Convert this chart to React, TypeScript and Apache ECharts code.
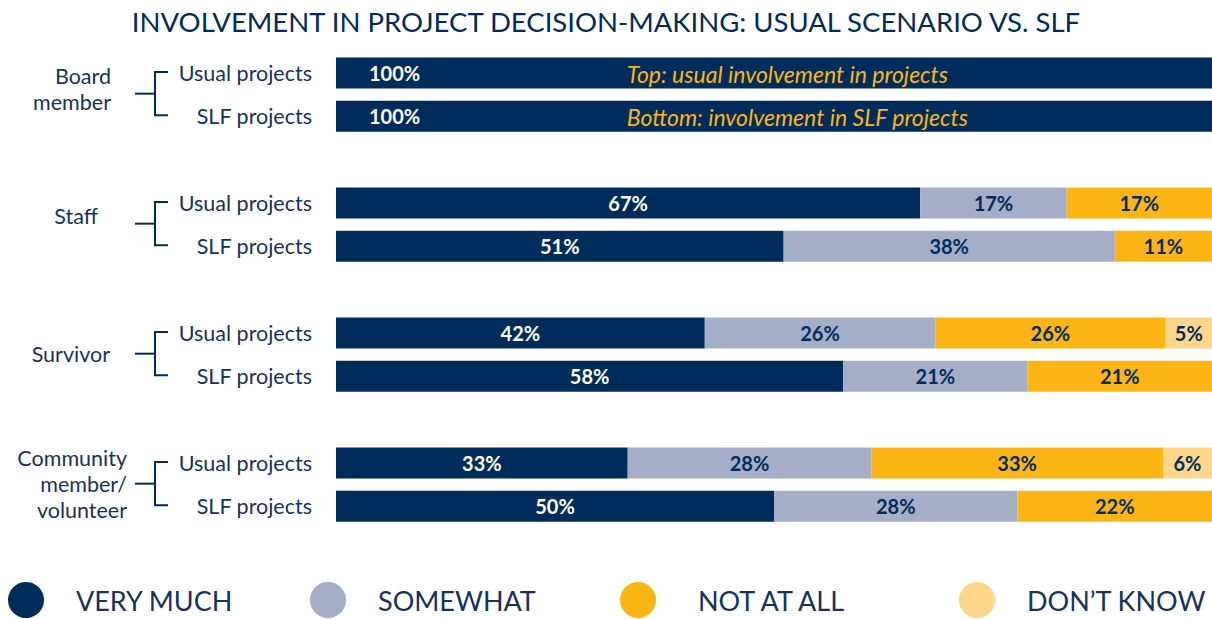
import React, { useEffect, useRef } from 'react';
import * as echarts from 'echarts';

const titleText = 'INVOLVEMENT IN PROJECT DECISION-MAKING: USUAL SCENARIO VS. SLF';
const groups = ['Board\nmember', 'Staff', 'Survivor', 'Community\nmember/\nvolunteer'];
const rowLabels = ['Usual projects', 'SLF projects'];
const responses = ['VERY MUCH', 'SOMEWHAT', 'NOT AT ALL', 'DON\u2019T KNOW'];
// rows: Board usual, Board SLF, Staff usual, Staff SLF, Survivor usual, Survivor SLF, Community usual, Community SLF
const veryMuch = [100, 100, 66.7, 51.1, 42.1, 57.9, 33.3, 50.0];
const somewhat = [null, null, 16.7, 37.8, 26.3, 21.05, 27.8, 27.8];
const notAtAll = [null, null, 16.6, 11.1, 26.3, 21.05, 33.3, 22.2];
const dontKnow = [null, null, null, null, 5.3, null, 5.6, null];
const annotations = ['Top: usual involvement in projects', 'Bottom: involvement in SLF projects'];
const annotationAt = 33.2;

const NAVY = '#002c5c';
const TEXT = '#16335d';
const colors = [NAVY, '#a5aec7', '#fdb515', '#fed78b'];
const FONT = 'Lato, "Noto Sans", sans-serif';

export default function App() {
  const ref = useRef<HTMLDivElement>(null);
  useEffect(() => {
    if (!ref.current) return;
    const chart = echarts.init(ref.current, null, { renderer: 'svg' });

    const cats: string[] = [];
    const rowPos: number[] = [];
    groups.forEach((_, g) => {
      rowLabels.forEach((r) => {
        rowPos.push(cats.length);
        cats.push(r + '|' + g);
      });
      if (g < groups.length - 1) cats.push('|gap' + g);
    });
    const toSlots = (arr: (number | null)[], boardLeft: boolean) => {
      const out: any[] = cats.map(() => '-');
      arr.forEach((v, i) => {
        if (v == null) return;
        if (boardLeft && i < 2) {
          out[rowPos[i]] = { value: v, label: { position: 'insideLeft', distance: 33 } };
        } else out[rowPos[i]] = v;
      });
      return out;
    };
    const seriesData = [veryMuch, somewhat, notAtAll, dontKnow];

    const legendLefts = [8, 310, 620, 959];
    const legendPads = [27, 27, 37, 27];

    chart.setOption({
      animation: false,
      title: {
        text: titleText,
        left: 'center',
        top: 2,
        textStyle: { fontFamily: FONT, fontSize: 27.5, fontWeight: 'normal', color: NAVY },
      },
      legend: responses.map((r, i) => ({
        data: [r],
        left: legendLefts[i],
        top: 582,
        padding: 0,
        icon: 'circle',
        itemWidth: 36,
        itemHeight: 38,
        selectedMode: false,
        textStyle: { fontFamily: FONT, fontSize: 27, color: TEXT, padding: [0, 0, 0, legendPads[i]] },
      })),
      grid: { left: 336, right: 0, top: 51.33, height: 476.67, containLabel: false },
      xAxis: { type: 'value', min: 0, max: 100, show: false },
      yAxis: {
        type: 'category',
        inverse: true,
        data: cats,
        axisLine: { show: false },
        axisTick: { show: false },
        splitLine: { show: false },
        axisLabel: {
          margin: 24,
          fontFamily: FONT,
          fontSize: 21.5,
          color: TEXT,
          formatter: (v: string) => v.split('|')[0],
        },
      },
      series: responses.map((r, i) => ({
        name: r,
        type: 'bar',
        stack: 'all',
        barWidth: 31,
        itemStyle: { color: colors[i] },
        label: {
          show: true,
          position: 'inside',
          fontFamily: FONT,
          fontSize: 20,
          fontWeight: 'bold',
          color: i === 0 ? '#ffffff' : NAVY,
          formatter: (p: any) => Math.round(p.value) + '%',
        },
        data: toSlots(seriesData[i], i === 0),
      })),
    });

    const py = (idx: number) => chart.convertToPixel({ yAxisIndex: 0 }, idx) as number;
    const groupDy = [-5, -8, 0, 0];
    const groupRight = [111, 98, 110, 127];
    const graphics: any[] = [];
    groups.forEach((g, gi) => {
      const yTop = py(rowPos[gi * 2]) - 1;
      const yBot = py(rowPos[gi * 2 + 1]) - 1;
      const mid = (yTop + yBot) / 2;
      graphics.push({
        type: 'polyline',
        z: 100,
        shape: { points: [[168, yTop], [155, yTop], [155, yBot], [168, yBot]] },
        style: { stroke: NAVY, lineWidth: 2, fill: null },
      });
      graphics.push({
        type: 'line',
        z: 100,
        shape: { x1: 135, y1: mid, x2: 155, y2: mid },
        style: { stroke: NAVY, lineWidth: 2 },
      });
      graphics.push({
        type: 'text',
        z: 100,
        x: groupRight[gi],
        y: mid + groupDy[gi],
        style: {
          text: g,
          fontFamily: FONT,
          fontSize: 21.5,
          lineHeight: 26,
          fill: TEXT,
          align: 'right',
          verticalAlign: 'middle',
        },
      });
    });
    const ax = chart.convertToPixel({ xAxisIndex: 0 }, annotationAt) as number;
    annotations.forEach((a, i) => {
      graphics.push({
        type: 'text',
        z: 100,
        x: ax,
        y: py(rowPos[i]) + 1,
        style: {
          text: a,
          fontFamily: FONT,
          fontSize: 23,
          fontStyle: 'italic',
          fontWeight: 'normal',
          fill: '#fdb515',
          align: 'left',
          verticalAlign: 'middle',
        },
      });
    });
    chart.setOption({ graphic: graphics });

    return () => chart.dispose();
  }, []);
  return <div ref={ref} style={{ position: 'absolute', left: 0, top: 0, width: 1212, height: 619 }} />;
}
